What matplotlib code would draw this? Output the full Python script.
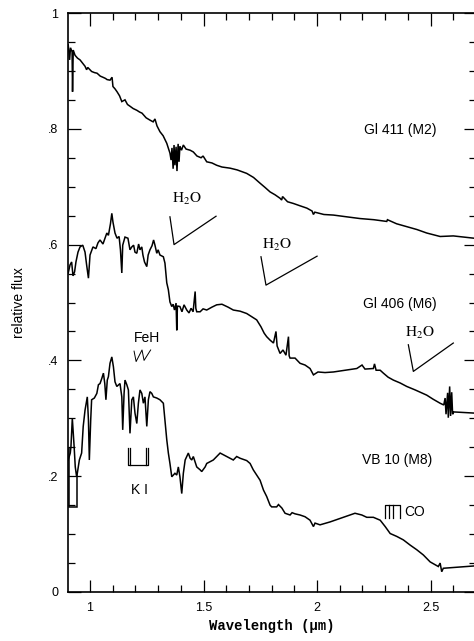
import matplotlib
matplotlib.use("Agg")
import matplotlib.pyplot as plt
from matplotlib.ticker import MultipleLocator

# Gl 411 (M2)
gl411_wl = [0.904, 0.910, 0.914, 0.921, 0.923, 0.926, 0.934, 0.945, 0.956, 0.966,
            0.978, 0.985, 0.990, 1.007, 1.020, 1.031, 1.045, 1.057, 1.068, 1.075,
            1.088, 1.097, 1.101, 1.110, 1.119, 1.130, 1.140, 1.154, 1.165, 1.176,
            1.190, 1.206, 1.218, 1.229, 1.247, 1.264, 1.278, 1.286, 1.295, 1.308,
            1.322, 1.338, 1.352, 1.357, 1.361, 1.366, 1.370, 1.374, 1.379, 1.383,
            1.388, 1.392, 1.396, 1.403, 1.411, 1.423, 1.441, 1.455, 1.471, 1.489,
            1.498, 1.514, 1.537, 1.558, 1.581, 1.617, 1.648, 1.690, 1.720, 1.749,
            1.770, 1.793, 1.815, 1.837, 1.844, 1.848, 1.870, 1.896, 1.925, 1.955,
            1.978, 1.984, 1.990, 2.030, 2.072, 2.130, 2.189, 2.250, 2.307, 2.310,
            2.350, 2.395, 2.440, 2.483, 2.542, 2.600, 2.692]
gl411_flux = [0.945, 0.919, 0.940, 0.933, 0.864, 0.936, 0.927, 0.922, 0.919, 0.914,
              0.908, 0.902, 0.906, 0.899, 0.897, 0.896, 0.891, 0.889, 0.887, 0.885,
              0.884, 0.889, 0.873, 0.869, 0.864, 0.857, 0.847, 0.850, 0.842, 0.839,
              0.835, 0.832, 0.829, 0.827, 0.819, 0.815, 0.812, 0.817, 0.805, 0.795,
              0.788, 0.775, 0.758, 0.746, 0.767, 0.731, 0.772, 0.737, 0.769, 0.727,
              0.774, 0.743, 0.770, 0.763, 0.772, 0.765, 0.763, 0.760, 0.753, 0.750,
              0.753, 0.743, 0.741, 0.737, 0.734, 0.732, 0.729, 0.723, 0.716, 0.706,
              0.699, 0.691, 0.686, 0.680, 0.677, 0.683, 0.674, 0.671, 0.667, 0.663,
              0.658, 0.652, 0.656, 0.652, 0.651, 0.648, 0.645, 0.643, 0.640, 0.643,
              0.636, 0.631, 0.626, 0.620, 0.614, 0.615, 0.611]

# Gl 406 (M6)
gl406_wl = [0.904, 0.912, 0.919, 0.925, 0.932, 0.938, 0.947, 0.956, 0.968, 0.978,
            0.985, 0.993, 1.000, 1.013, 1.026, 1.035, 1.044, 1.057, 1.074, 1.081,
            1.090, 1.096, 1.101, 1.110, 1.119, 1.128, 1.134, 1.140, 1.144, 1.154,
            1.167, 1.176, 1.184, 1.192, 1.198, 1.206, 1.214, 1.220, 1.228, 1.233,
            1.240, 1.250, 1.256, 1.264, 1.273, 1.280, 1.286, 1.294, 1.300, 1.308,
            1.323, 1.330, 1.338, 1.345, 1.352, 1.360, 1.366, 1.372, 1.379, 1.382,
            1.385, 1.396, 1.405, 1.414, 1.426, 1.436, 1.445, 1.454, 1.463, 1.466,
            1.470, 1.485, 1.498, 1.514, 1.537, 1.558, 1.581, 1.608, 1.631, 1.661,
            1.690, 1.714, 1.734, 1.753, 1.767, 1.778, 1.793, 1.808, 1.819, 1.824,
            1.837, 1.850, 1.863, 1.874, 1.877, 1.881, 1.903, 1.925, 1.947, 1.969,
            1.984, 2.004, 2.035, 2.072, 2.123, 2.175, 2.198, 2.211, 2.248, 2.253,
            2.260, 2.278, 2.292, 2.313, 2.336, 2.366, 2.395, 2.432, 2.483, 2.511,
            2.542, 2.558, 2.564, 2.568, 2.575, 2.578, 2.584, 2.588, 2.593, 2.597,
            2.602, 2.692]
gl406_flux = [0.551, 0.565, 0.570, 0.546, 0.553, 0.570, 0.587, 0.596, 0.599, 0.587,
              0.565, 0.542, 0.582, 0.596, 0.593, 0.603, 0.608, 0.601, 0.620, 0.616,
              0.636, 0.654, 0.639, 0.620, 0.611, 0.614, 0.591, 0.551, 0.599, 0.613,
              0.611, 0.591, 0.596, 0.599, 0.587, 0.585, 0.601, 0.591, 0.596, 0.582,
              0.570, 0.562, 0.582, 0.591, 0.598, 0.608, 0.599, 0.585, 0.591, 0.582,
              0.579, 0.568, 0.534, 0.522, 0.501, 0.493, 0.497, 0.487, 0.499, 0.452,
              0.494, 0.493, 0.484, 0.496, 0.487, 0.482, 0.490, 0.484, 0.519, 0.490,
              0.484, 0.484, 0.489, 0.487, 0.492, 0.496, 0.497, 0.492, 0.487, 0.485,
              0.481, 0.475, 0.470, 0.458, 0.447, 0.441, 0.435, 0.430, 0.450, 0.425,
              0.412, 0.418, 0.409, 0.441, 0.408, 0.404, 0.404, 0.395, 0.392, 0.386,
              0.375, 0.380, 0.379, 0.380, 0.383, 0.386, 0.392, 0.385, 0.386, 0.394,
              0.383, 0.383, 0.378, 0.371, 0.366, 0.361, 0.355, 0.349, 0.340, 0.333,
              0.326, 0.323, 0.335, 0.307, 0.344, 0.301, 0.355, 0.304, 0.345, 0.307,
              0.311, 0.309]

# VB 10 (M8)
vb10_wl = [0.904, 0.913, 0.916, 0.922, 0.930, 0.935, 0.941, 0.944, 0.953, 0.963,
           0.970, 0.978, 0.988, 0.993, 0.997, 1.003, 1.007, 1.019, 1.030, 1.037,
           1.044, 1.052, 1.059, 1.065, 1.070, 1.076, 1.081, 1.088, 1.096, 1.103,
           1.110, 1.118, 1.132, 1.140, 1.144, 1.150, 1.154, 1.162, 1.169, 1.176,
           1.184, 1.191, 1.198, 1.206, 1.213, 1.220, 1.228, 1.235, 1.242, 1.250,
           1.257, 1.264, 1.272, 1.279, 1.294, 1.308, 1.323, 1.330, 1.338, 1.345,
           1.352, 1.360, 1.367, 1.374, 1.382, 1.389, 1.396, 1.404, 1.411, 1.419,
           1.426, 1.433, 1.441, 1.448, 1.455, 1.470, 1.485, 1.492, 1.507, 1.514,
           1.529, 1.543, 1.558, 1.573, 1.587, 1.602, 1.617, 1.631, 1.646, 1.661,
           1.690, 1.705, 1.719, 1.734, 1.749, 1.764, 1.778, 1.793, 1.800, 1.822,
           1.830, 1.845, 1.859, 1.881, 1.890, 1.903, 1.925, 1.947, 1.969, 1.984,
           1.991, 2.013, 2.057, 2.116, 2.167, 2.197, 2.219, 2.248, 2.278, 2.300,
           2.322, 2.351, 2.380, 2.410, 2.439, 2.468, 2.498, 2.520, 2.534, 2.542,
           2.549, 2.556, 2.692]
vb10_flux = [0.228, 0.240, 0.251, 0.300, 0.251, 0.216, 0.199, 0.205, 0.228, 0.240,
             0.286, 0.314, 0.337, 0.297, 0.228, 0.297, 0.332, 0.335, 0.343, 0.358,
             0.360, 0.369, 0.378, 0.360, 0.332, 0.366, 0.372, 0.395, 0.406, 0.389,
             0.363, 0.355, 0.360, 0.337, 0.280, 0.343, 0.366, 0.358, 0.349, 0.274,
             0.332, 0.337, 0.309, 0.291, 0.326, 0.349, 0.343, 0.326, 0.337, 0.286,
             0.332, 0.346, 0.343, 0.337, 0.335, 0.332, 0.326, 0.297, 0.263, 0.240,
             0.222, 0.199, 0.202, 0.205, 0.202, 0.216, 0.199, 0.170, 0.205, 0.228,
             0.234, 0.240, 0.231, 0.228, 0.234, 0.216, 0.211, 0.208, 0.216, 0.222,
             0.225, 0.228, 0.234, 0.240, 0.237, 0.234, 0.231, 0.228, 0.234, 0.231,
             0.227, 0.222, 0.211, 0.202, 0.193, 0.176, 0.165, 0.150, 0.147, 0.147,
             0.151, 0.145, 0.136, 0.133, 0.137, 0.135, 0.133, 0.130, 0.124, 0.113,
             0.119, 0.116, 0.121, 0.129, 0.136, 0.133, 0.129, 0.129, 0.124, 0.113,
             0.101, 0.096, 0.090, 0.081, 0.073, 0.064, 0.052, 0.047, 0.044, 0.050,
             0.035, 0.041, 0.045]
# short segment at the blue edge of the VB 10 spectrum
vb10_edge_wl = [0.909, 0.909, 0.941, 0.941]
vb10_edge_flux = [0.248, 0.147, 0.147, 0.199]

star_labels = ["Gl 411 (M2)", "Gl 406 (M6)", "VB 10 (M8)"]
star_label_wl = [2.366, 2.366, 2.351]
star_label_flux = [0.798, 0.498, 0.228]

# H2O band markers: (text position, V-shaped marker)
h2o_text_wl = [1.425, 1.824, 2.454]
h2o_text_flux = [0.678, 0.599, 0.447]
h2o_v_wl = [[1.352, 1.370, 1.555], [1.753, 1.775, 2.000], [2.402, 2.424, 2.600]]
h2o_v_flux = [[0.648, 0.600, 0.649], [0.579, 0.530, 0.580], [0.427, 0.381, 0.430]]

feh_zig_wl = [1.194, 1.203, 1.229, 1.238, 1.267]
feh_zig_flux = [0.416, 0.398, 0.418, 0.400, 0.418]

ki_lines_wl = [1.169, 1.177, 1.248, 1.256]
ki_top, ki_bottom = 0.248, 0.219

co_lines_wl = [2.300, 2.318, 2.336, 2.366]
co_top, co_bottom = 0.150, 0.128

y_ticks = [0, 0.2, 0.4, 0.6, 0.8, 1.0]
y_tick_labels = ["0", ".2", ".4", ".6", ".8", "1"]
x_ticks = [1.0, 1.5, 2.0, 2.5]
x_tick_labels = ["1", "1.5", "2", "2.5"]


def main() -> None:
    plt.rcParams["font.family"] = "Liberation Sans"
    plt.rcParams["mathtext.fontset"] = "stix"
    fig = plt.figure(figsize=(4.74, 6.41), dpi=100)
    ax = fig.add_axes([68 / 474, 49 / 641, 408 / 474, 579 / 641])

    spec_kw = dict(color="black", linewidth=1.1, solid_joinstyle="miter")
    ax.plot(gl411_wl, gl411_flux, **spec_kw)
    ax.plot(gl406_wl, gl406_flux, **spec_kw)
    ax.plot(vb10_wl, vb10_flux, **spec_kw)
    ax.plot(vb10_edge_wl, vb10_edge_flux, **spec_kw)

    for label, x, y in zip(star_labels, star_label_wl, star_label_flux):
        ax.text(x, y, label, fontsize=10, ha="center", va="center")

    for tx, ty, vx, vy in zip(h2o_text_wl, h2o_text_flux, h2o_v_wl, h2o_v_flux):
        ax.text(tx, ty, r"$\mathrm{H_2O}$", fontsize=11, ha="center", va="center")
        ax.plot(vx, vy, color="black", linewidth=0.9)

    ax.text(1.250, 0.438, "FeH", fontsize=10, ha="center", va="center")
    ax.plot(feh_zig_wl, feh_zig_flux, color="black", linewidth=0.7)

    ax.plot([ki_lines_wl[0], ki_lines_wl[0], ki_lines_wl[-1], ki_lines_wl[-1]],
            [ki_top, ki_bottom, ki_bottom, ki_top], color="black", linewidth=0.9)
    ax.plot([ki_lines_wl[1], ki_lines_wl[1]], [ki_top, ki_bottom], color="black", linewidth=0.9)
    ax.plot([ki_lines_wl[2], ki_lines_wl[2]], [ki_top, ki_bottom], color="black", linewidth=0.9)
    ax.text(1.217, 0.176, "K I", fontsize=10, ha="center", va="center")

    ax.plot([co_lines_wl[0], co_lines_wl[0], co_lines_wl[-1], co_lines_wl[-1]],
            [co_bottom, co_top, co_top, co_bottom], color="black", linewidth=0.9)
    for w in co_lines_wl[1:-1]:
        ax.plot([w, w], [co_top, co_bottom], color="black", linewidth=0.9)
    ax.text(2.385, 0.138, "CO", fontsize=10, ha="left", va="center")

    ax.set_xlim(0.903, 2.70)
    ax.set_ylim(0, 1)
    ax.set_xticks(x_ticks)
    ax.set_xticklabels(x_tick_labels)
    ax.set_yticks(y_ticks)
    ax.set_yticklabels(y_tick_labels)
    ax.xaxis.set_minor_locator(MultipleLocator(0.1))
    ax.yaxis.set_minor_locator(MultipleLocator(0.05))
    ax.tick_params(which="both", direction="in", top=True, right=True,
                   width=0.9, labelsize=9, pad=7)
    ax.tick_params(which="major", length=9)
    ax.tick_params(which="minor", length=5)
    for spine in ax.spines.values():
        spine.set_linewidth(1.2)

    ax.set_ylabel("relative flux", fontsize=10, labelpad=16)
    ax.set_xlabel("Wavelength (μm)", fontsize=10, family="Liberation Mono",
                  fontweight="bold", labelpad=4)

    fig.savefig("out.png", dpi=100)
    plt.close(fig)


if __name__ == "__main__":
    main()
